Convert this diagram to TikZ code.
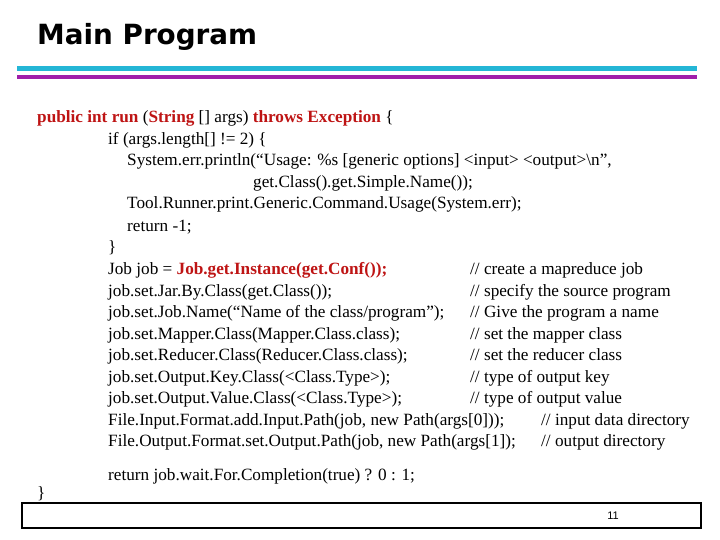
\documentclass[tikz,border=0pt]{standalone}
\usepackage{fontspec}
\setmainfont{Liberation Serif}
\newfontfamily\titlefont{DejaVu Sans}
\newfontfamily\pagefont{Liberation Sans}
\definecolor{barcyan}{RGB}{36,182,214}
\definecolor{barmagenta}{RGB}{160,30,170}
\definecolor{kwred}{RGB}{190,20,20}
\newcommand{\kw}[1]{\textcolor{kwred}{\bfseries #1}}
\begin{document}
\begin{tikzpicture}[x=1pt,y=-1pt,
  codeline/.style={anchor=base west,inner sep=0pt,font=\fontsize{17.2}{19}\selectfont}]
\useasboundingbox (0,0) rectangle (720,540);
% Title and bars
\node[anchor=base west,inner sep=0pt,font=\titlefont\bfseries\fontsize{27.8}{32}\selectfont] (title) at (37,45) {Main Program};
\fill[barcyan] (17,66) rectangle (697,71);
\fill[barmagenta] (17,75) rectangle (697,79);
% Code lines
\node[codeline] (l1) at (37,123) {\kw{public int run} (\kw{String} [] args) \kw{throws Exception} \{};
\node[codeline] (l2) at (108,145) {if (args.length[] != 2) \{};
\node[codeline] (l3) at (127,166) {System.err.println(“Usage: \%s [generic options] <input> <output>\textbackslash n”,};
\node[codeline] (l4) at (253,188) {get.Class().get.Simple.Name());};
\node[codeline] (l5) at (127,209) {Tool.Runner.print.Generic.Command.Usage(System.err);};
\node[codeline] (l6) at (127,231) {return -1;};
\node[codeline] (l7) at (108,252) {\}};
\node[codeline] (l8) at (108,274) {Job job = \kw{Job.get.Instance(get.Conf());}};
\node[codeline] (l9) at (108,296) {job.set.Jar.By.Class(get.Class());};
\node[codeline] (l10) at (108,317) {job.set.Job.Name(“Name of the class/program”);};
\node[codeline] (l11) at (108,339) {job.set.Mapper.Class(Mapper.Class.class);};
\node[codeline] (l12) at (108,360) {job.set.Reducer.Class(Reducer.Class.class);};
\node[codeline] (l13) at (108,382) {job.set.Output.Key.Class(<Class.Type>);};
\node[codeline] (l14) at (108,403) {job.set.Output.Value.Class(<Class.Type>);};
\node[codeline] (l15) at (108,425) {File.Input.Format.add.Input.Path(job, new Path(args[0]));};
\node[codeline] (l16) at (108,446) {File.Output.Format.set.Output.Path(job, new Path(args[1]);};
\node[codeline] (l17) at (108,480) {return job.wait.For.Completion(true) ? 0 : 1;};
\node[codeline] (l18) at (37,498) {\}};
% Comments
\node[codeline] (c8) at (470,274) {// create a mapreduce job};
\node[codeline] (c9) at (470,296) {// specify the source program};
\node[codeline] (c10) at (470,317) {// Give the program a name};
\node[codeline] (c11) at (470,339) {// set the mapper class};
\node[codeline] (c12) at (470,360) {// set the reducer class};
\node[codeline] (c13) at (470,382) {// type of output key};
\node[codeline] (c14) at (470,403) {// type of output value};
\node[codeline] (c15) at (541,425) {// input data directory};
\node[codeline] (c16) at (541,446) {// output directory};
% Footer
\draw[line width=1.5pt] (22,503) rectangle (701,528);
\node[anchor=base,inner sep=0pt,font=\pagefont\fontsize{11}{12}\selectfont] (page) at (613,519) {11};
\end{tikzpicture}
\end{document}
